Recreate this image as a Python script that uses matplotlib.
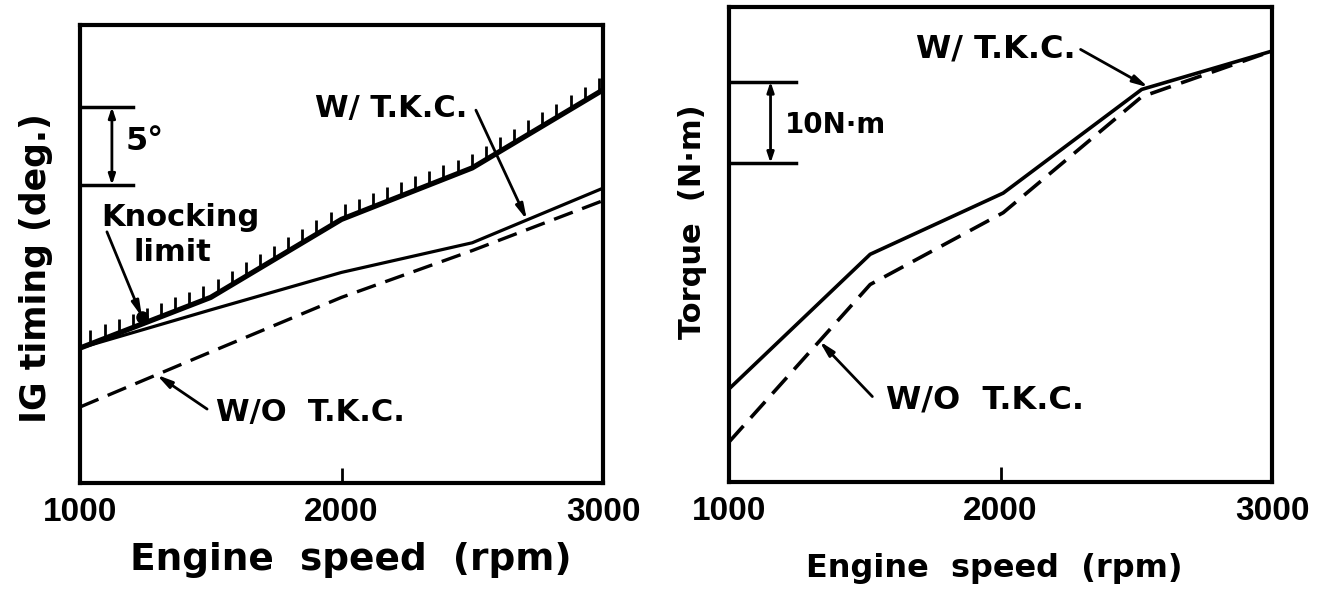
import matplotlib
matplotlib.use('Agg')
import matplotlib.pyplot as plt
import numpy as np

# engine speed nodes (rpm)
rpm = [1000, 1500, 2000, 2500, 3000]

# left: ignition timing (deg, arbitrary zero)
knock_limit = [8.65, 11.9, 16.9, 20.2, 25.2]
ig_with_tkc = [8.65, 11.1, 13.5, 15.4, 18.9]
ig_without_tkc = [4.87, 8.4, 11.9, 14.9, 18.1]

# right: torque (N-m, arbitrary zero)
torque_rpm = [1000, 1520, 2010, 2520, 3000]
torque_with_tkc = [11.4, 27.9, 35.4, 48.1, 52.8]
torque_without_tkc = [4.9, 24.2, 33.0, 47.2, 52.8]

xticks = [1000, 2000, 3000]
xticklabels = ['1000', '2000', '3000']

BOLD = dict(family='DejaVu Sans', weight='bold')
arrow = dict(arrowstyle='-|>,head_length=0.9,head_width=0.22', lw=2, color='black',
             shrinkA=0, shrinkB=0)
dbl = dict(arrowstyle='<|-|>,head_length=0.6,head_width=0.2', lw=2, color='black',
           shrinkA=0, shrinkB=0)

fig = plt.figure(figsize=(13.27, 5.93), dpi=100)
ax1 = fig.add_axes([80 / 1327, 110 / 593, 523 / 1327, 458 / 593])
ax2 = fig.add_axes([729 / 1327, 111 / 593, 543 / 1327, 475 / 593])

for ax in (ax1, ax2):
    for s in ax.spines.values():
        s.set_linewidth(3)
    ax.set_xlim(1000, 3000)
    ax.set_xticks(xticks)
    ax.set_xticklabels(xticklabels, family='Liberation Sans', weight='bold', fontsize=24)
    ax.tick_params(axis='x', direction='in', length=11, width=2, pad=10)
    ax.set_yticks([])

# ---- left panel ----
ax1.set_ylim(0, 29.36)
ax1.plot(rpm, knock_limit, color='black', lw=3.8, solid_capstyle='butt')
ax1.plot(rpm, ig_with_tkc, color='black', lw=2.3)
ax1.plot(rpm, ig_without_tkc, color='black', lw=2.4, dashes=(6, 3))

hx = np.arange(1040, 3000, 54)
hy = np.interp(hx, rpm, knock_limit)
ax1.vlines(hx, hy, hy + 0.9, color='black', lw=2)

# 5 deg scale bar
ax1.plot([1000, 1203], [24.1, 24.1], color='black', lw=2.5)
ax1.plot([1000, 1203], [19.1, 19.1], color='black', lw=2.5)
ax1.annotate('', xy=(1122, 24.1), xytext=(1122, 19.1), arrowprops=dbl)
ax1.text(1249, 21.9, '5°', fontsize=23, ha='center', va='center', **BOLD)

ax1.text(1383, 17.05, 'Knocking', fontsize=22, ha='center', va='center', **BOLD)
ax1.text(1352, 14.8, 'limit', fontsize=22, ha='center', va='center', **BOLD)
kx = 1237
ky = np.interp(kx, rpm, knock_limit)
ax1.plot([kx], [ky + 0.45], 'o', color='black', ms=8)
ax1.annotate('', xy=(kx, ky + 0.45), xytext=(1103, 16.1), arrowprops=arrow)

ax1.text(2190, 24.0, 'W/ T.K.C.', fontsize=22, ha='center', va='center', **BOLD)
ax1.annotate('', xy=(2709, np.interp(2709, rpm, ig_with_tkc)), xytext=(2514, 23.9),
             arrowprops=arrow)

ax1.text(1883, 4.5, 'W/O  T.K.C.', fontsize=22, ha='center', va='center', **BOLD)
ax1.annotate('', xy=(1293, np.interp(1293, rpm, ig_without_tkc)), xytext=(1486, 4.74),
             arrowprops=arrow)

ax1.set_xlabel('Engine  speed  (rpm)', fontsize=27, va='center', **BOLD)
ax1.xaxis.set_label_coords(0.518, -0.168)
ax1.set_ylabel('IG timing (deg.)', fontsize=25, va='center', **BOLD)
ax1.yaxis.set_label_coords(-0.084, 0.469)

# ---- right panel ----
ax2.set_ylim(0, 58.2)
ax2.plot(torque_rpm, torque_with_tkc, color='black', lw=2.6)
ax2.plot(torque_rpm, torque_without_tkc, color='black', lw=2.6, dashes=(6, 3))

ax2.plot([1000, 1247], [49.07, 49.07], color='black', lw=2.5)
ax2.plot([1000, 1247], [39.07, 39.07], color='black', lw=2.5)
ax2.annotate('', xy=(1153, 49.07), xytext=(1153, 39.07), arrowprops=dbl)
ax2.text(1394, 43.75, '10N·m', fontsize=20, ha='center', va='center', **BOLD)

ax2.text(1983, 53.06, 'W/ T.K.C.', fontsize=23, ha='center', va='center', **BOLD)
ax2.annotate('', xy=(2545, np.interp(2545, torque_rpm, torque_with_tkc)), xytext=(2295, 53.0),
             arrowprops=arrow)

ax2.text(1943, 10.05, 'W/O  T.K.C.', fontsize=23, ha='center', va='center', **BOLD)
ax2.annotate('', xy=(1333, np.interp(1333, torque_rpm, torque_without_tkc)), xytext=(1528, 10.47),
             arrowprops=arrow)

ax2.set_xlabel('Engine  speed  (rpm)', fontsize=23, va='center', **BOLD)
ax2.xaxis.set_label_coords(0.488, -0.183)
ax2.set_ylabel('Torque  (N·m)', fontsize=22, va='center', **BOLD)
ax2.yaxis.set_label_coords(-0.068, 0.547)

fig.savefig('out.png', dpi=100)
